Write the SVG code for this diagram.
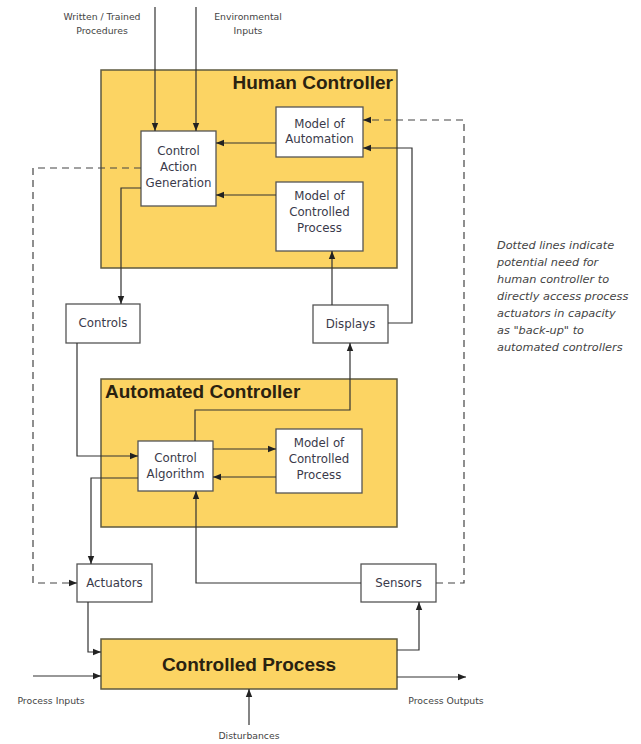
<svg xmlns="http://www.w3.org/2000/svg" width="641" height="744" viewBox="0 0 641 744">
<style>
.ctr{fill:#FCD463;stroke:#5e5a40;stroke-width:1.5}
.box{fill:#fff;stroke:#555;stroke-width:1.3}
.t{font-family:"DejaVu Sans",Verdana,sans-serif;font-size:11.8px;fill:#3a3a4a;text-anchor:middle}
.s{font-family:"DejaVu Sans",Verdana,sans-serif;font-size:9.3px;fill:#444;text-anchor:middle}
.h{font-family:"Liberation Sans",Arial,sans-serif;font-weight:bold;font-size:19px;fill:#2a2210}
.n{font-family:"DejaVu Sans",Verdana,sans-serif;font-style:italic;font-size:11.3px;fill:#444}
.c{fill:none;stroke:#333;stroke-width:1.2}
.d{fill:none;stroke:#444;stroke-width:1.2;stroke-dasharray:7 5}
</style>
<defs>
<marker id="a" viewBox="0 0 10 10" refX="10" refY="5" markerWidth="8" markerHeight="8" markerUnits="userSpaceOnUse" orient="auto">
<path d="M0,1 L10,5 L0,9 z" fill="#222"/>
</marker>
</defs>
<rect width="641" height="744" fill="#fff"/>

<g id="human-controller">
<rect class="ctr" x="101" y="70" width="296" height="198"/>
<text class="h" x="393" y="89" text-anchor="end">Human Controller</text>
</g>
<g id="automated-controller">
<rect class="ctr" x="101" y="379" width="296" height="148"/>
<text class="h" x="105" y="398">Automated Controller</text>
</g>
<g id="controlled-process">
<rect class="ctr" x="101" y="639" width="296" height="50"/>
<text class="h" x="249" y="671" text-anchor="middle">Controlled Process</text>
</g>

<g id="control-action-generation">
<rect class="box" x="141" y="131" width="75" height="75"/>
<text class="t" x="178.5" y="155">Control</text>
<text class="t" x="178.5" y="171">Action</text>
<text class="t" x="178.5" y="187">Generation</text>
</g>
<g id="model-of-automation">
<rect class="box" x="276" y="107" width="87" height="50"/>
<text class="t" x="319.5" y="128">Model of</text>
<text class="t" x="319.5" y="143">Automation</text>
</g>
<g id="model-of-controlled-process-h">
<rect class="box" x="276" y="182" width="87" height="69"/>
<text class="t" x="319.5" y="200">Model of</text>
<text class="t" x="319.5" y="216">Controlled</text>
<text class="t" x="319.5" y="232">Process</text>
</g>
<g id="controls">
<rect class="box" x="66" y="304" width="74" height="39"/>
<text class="t" x="103" y="327">Controls</text>
</g>
<g id="displays">
<rect class="box" x="313" y="305" width="75" height="38"/>
<text class="t" x="350.5" y="328">Displays</text>
</g>
<g id="control-algorithm">
<rect class="box" x="138" y="441" width="75" height="50"/>
<text class="t" x="175.5" y="462">Control</text>
<text class="t" x="175.5" y="478">Algorithm</text>
</g>
<g id="model-of-controlled-process-a">
<rect class="box" x="276" y="429" width="86" height="64"/>
<text class="t" x="319" y="447">Model of</text>
<text class="t" x="319" y="463">Controlled</text>
<text class="t" x="319" y="479">Process</text>
</g>
<g id="actuators">
<rect class="box" x="77" y="564" width="75" height="38"/>
<text class="t" x="114.5" y="587">Actuators</text>
</g>
<g id="sensors">
<rect class="box" x="361" y="564" width="75" height="38"/>
<text class="t" x="398.5" y="587">Sensors</text>
</g>

<g id="labels">
<text class="s" x="102" y="20">Written / Trained</text>
<text class="s" x="102" y="34">Procedures</text>
<text class="s" x="248" y="20">Environmental</text>
<text class="s" x="248" y="34">Inputs</text>
<text class="s" x="51" y="704">Process Inputs</text>
<text class="s" x="446" y="704">Process Outputs</text>
<text class="s" x="249" y="739">Disturbances</text>
<text class="n" x="497" y="249">Dotted lines indicate</text>
<text class="n" x="497" y="266">potential need for</text>
<text class="n" x="497" y="283">human controller to</text>
<text class="n" x="497" y="300">directly access process</text>
<text class="n" x="497" y="317">actuators in capacity</text>
<text class="n" x="497" y="334">as "back-up" to</text>
<text class="n" x="497" y="351">automated controllers</text>
</g>

<g id="connectors">
<path class="c" d="M155,7 V131" marker-end="url(#a)"/>
<path class="c" d="M196,7 V131" marker-end="url(#a)"/>
<path class="c" d="M276,143 H216" marker-end="url(#a)"/>
<path class="c" d="M276,195 H216" marker-end="url(#a)"/>
<path class="c" d="M141,188 H121 V304" marker-end="url(#a)"/>
<path class="c" d="M332,305 V251" marker-end="url(#a)"/>
<path class="c" d="M388,323 H412 V148 H363" marker-end="url(#a)"/>
<path class="c" d="M77,343 V456 H138" marker-end="url(#a)"/>
<path class="c" d="M195,441 V410 H350 V343" marker-end="url(#a)"/>
<path class="c" d="M213,449 H276" marker-end="url(#a)"/>
<path class="c" d="M276,477 H213" marker-end="url(#a)"/>
<path class="c" d="M138,478 H91 V564" marker-end="url(#a)"/>
<path class="c" d="M361,583 H196 V491" marker-end="url(#a)"/>
<path class="c" d="M88,602 V652 H101" marker-end="url(#a)"/>
<path class="c" d="M33,676 H101" marker-end="url(#a)"/>
<path class="c" d="M249,725 V689" marker-end="url(#a)"/>
<path class="c" d="M397,650 H419 V602" marker-end="url(#a)"/>
<path class="c" d="M397,677 H466" marker-end="url(#a)"/>
<path class="d" d="M141,168 H33 V583 H77" marker-end="url(#a)"/>
<path class="d" d="M436,583 H464 V120 H363" marker-end="url(#a)"/>
</g>
</svg>
